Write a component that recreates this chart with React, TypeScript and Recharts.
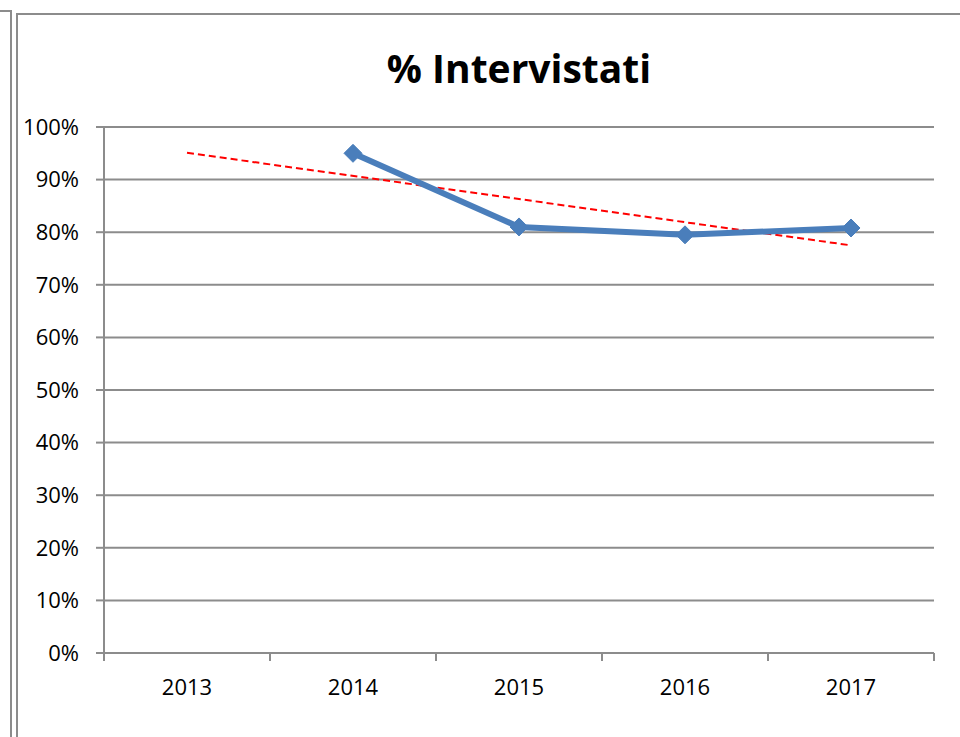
import React from "react";
import { LineChart, Line, XAxis, YAxis, CartesianGrid } from "recharts";

const YEARS = ["2013", "2014", "2015", "2016", "2017"];
const SHARE = [null, 0.95, 0.81, 0.795, 0.808];
const TREND = [0.951, null, null, null, 0.775];
const Y_TICKS = [0, 0.1, 0.2, 0.3, 0.4, 0.5, 0.6, 0.7, 0.8, 0.9, 1];
const TITLE = "% Intervistati";

const data = YEARS.map((year, i) => ({ year, value: SHARE[i], trend: TREND[i] }));

const W = 960;
const H = 737;
const M = { top: 127, right: 26, bottom: 0, left: 0 };
const Y_AXIS_W = 104;
const X_AXIS_H = 84;
const PLOT_W = W - M.left - M.right - Y_AXIS_W;
const BAND = PLOT_W / YEARS.length;
const GRAY = "#8c8c8c";
const BLUE = "#4a7ebb";
const FONT = "'Open Sans', 'Liberation Sans', sans-serif";

const XTick = (props: any) => {
  const { x, y, payload, index } = props;
  const half = BAND / 2;
  return (
    <g>
      <line x1={x - half} x2={x - half} y1={y} y2={y + 8} stroke={GRAY} strokeWidth={2} />
      {index === YEARS.length - 1 && (
        <line x1={x + half} x2={x + half} y1={y} y2={y + 8} stroke={GRAY} strokeWidth={2} />
      )}
      <text x={x} y={y + 42} textAnchor="middle" fill="#000" fontSize={22} fontFamily={FONT}>
        {payload.value}
      </text>
    </g>
  );
};

const Diamond = (props: any) => {
  const { cx, cy } = props;
  if (cx == null || cy == null) return <g />;
  const r = 9;
  return (
    <path
      d={`M${cx},${cy - r} L${cx + r},${cy} L${cx},${cy + r} L${cx - r},${cy} Z`}
      fill={BLUE}
      stroke={BLUE}
      strokeWidth={1}
    />
  );
};

export default function App() {
  return (
    <div style={{ position: "absolute", left: 0, top: 0, width: W, height: H, background: "#fff", overflow: "hidden" }}>
      <svg width={W} height={H} style={{ position: "absolute", left: 0, top: 0 }}>
        <polyline points={`0,11 11,11 11,${H}`} fill="none" stroke={GRAY} strokeWidth={2} />
        <polyline points={`17,${H} 17,14 ${W},14`} fill="none" stroke={GRAY} strokeWidth={2} />
        <text
          x={M.left + Y_AXIS_W + PLOT_W / 2}
          y={83}
          textAnchor="middle"
          fontSize={39}
          fontWeight="bold"
          fontFamily={FONT}
          fill="#000"
        >
          {TITLE}
        </text>
      </svg>
      <div style={{ position: "absolute", left: 0, top: 0 }}>
        <LineChart width={W} height={H} data={data} margin={M}>
          <CartesianGrid vertical={false} stroke={GRAY} strokeWidth={2} />
          <XAxis
            dataKey="year"
            scale="band"
            height={X_AXIS_H}
            axisLine={{ stroke: GRAY, strokeWidth: 2 }}
            tickLine={false}
            tickSize={0}
            tickMargin={0}
            interval={0}
            tick={<XTick />}
          />
          <YAxis
            width={Y_AXIS_W}
            domain={[0, 1]}
            ticks={Y_TICKS}
            interval={0}
            tickFormatter={(v: number) => `${Math.round(v * 100)}%`}
            axisLine={{ stroke: GRAY, strokeWidth: 2 }}
            tickLine={{ stroke: GRAY, strokeWidth: 2 }}
            tickSize={8}
            tickMargin={17}
            tick={{ fill: "#000", fontSize: 22, fontFamily: FONT }}
          />
          <Line
            dataKey="trend"
            stroke="#ff0000"
            strokeWidth={2}
            strokeDasharray="7 4"
            dot={false}
            connectNulls
            isAnimationActive={false}
          />
          <Line
            dataKey="value"
            stroke={BLUE}
            strokeWidth={6}
            dot={<Diamond />}
            activeDot={false}
            isAnimationActive={false}
          />
        </LineChart>
      </div>
    </div>
  );
}
